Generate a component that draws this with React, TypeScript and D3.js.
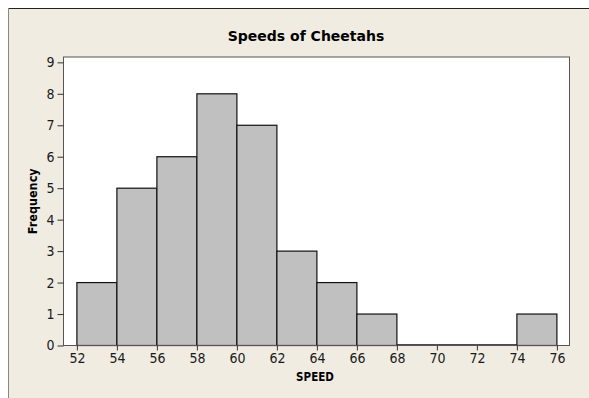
import { useEffect, useRef } from "react"
import * as d3 from "d3"

const binStarts = [52, 54, 56, 58, 60, 62, 64, 66, 68, 70, 72, 74]
const binWidth = 2
const frequencies = [2, 5, 6, 8, 7, 3, 2, 1, 0, 0, 0, 1]
const xTicks = [52, 54, 56, 58, 60, 62, 64, 66, 68, 70, 72, 74, 76]
const yTicks = [0, 1, 2, 3, 4, 5, 6, 7, 8, 9]

const W = 589
const H = 398
const font = "'DejaVu Sans Condensed', 'Liberation Sans', sans-serif"
const titleFont = "'DejaVu Sans', sans-serif"

export default function App() {
  const svgRef = useRef<SVGSVGElement>(null)

  useEffect(() => {
    if (!svgRef.current) return
    const svg = d3.select(svgRef.current)
    svg.selectAll("*").remove()

    const plot = { left: 63.5, top: 57, right: 569.5, bottom: 345.5 }

    // Outer panel
    svg.append("rect").attr("x", 8).attr("y", 8).attr("width", W - 8).attr("height", H - 8).attr("fill", "#f0ece2")
    svg.append("line").attr("x1", 8).attr("x2", W).attr("y1", 8.5).attr("y2", 8.5).attr("stroke", "#222").attr("stroke-width", 1)
    svg.append("line").attr("x1", 8.5).attr("x2", 8.5).attr("y1", 8).attr("y2", H).attr("stroke", "#888").attr("stroke-width", 1)

    // Plot area
    svg
      .append("rect")
      .attr("x", plot.left)
      .attr("y", plot.top)
      .attr("width", plot.right - plot.left)
      .attr("height", plot.bottom - plot.top)
      .attr("fill", "#ffffff")

    const x = d3.scaleLinear().domain([51.33, 76.63]).range([plot.left, plot.right])
    const y = d3.scaleLinear().domain([0, 9.17]).range([plot.bottom, plot.top])

    const bins = binStarts.map((s, i) => ({ x0: s, x1: s + binWidth, n: frequencies[i] }))

    svg
      .append("g")
      .selectAll("rect")
      .data(bins)
      .enter()
      .append("rect")
      .attr("x", (d) => x(d.x0))
      .attr("y", (d) => y(d.n))
      .attr("width", (d) => x(d.x1) - x(d.x0))
      .attr("height", (d) => y(0) - y(d.n))
      .attr("fill", "#c0c0c0")
      .attr("stroke", "#111")
      .attr("stroke-width", 1.2)

    // empty bins still show as a heavy baseline
    svg
      .append("g")
      .selectAll("line")
      .data(bins.filter((d) => d.n === 0))
      .enter()
      .append("line")
      .attr("x1", (d) => x(d.x0))
      .attr("x2", (d) => x(d.x1))
      .attr("y1", y(0) - 0.5)
      .attr("y2", y(0) - 0.5)
      .attr("stroke", "#111")
      .attr("stroke-width", 1.5)

    // Plot frame
    svg
      .append("rect")
      .attr("x", plot.left)
      .attr("y", plot.top)
      .attr("width", plot.right - plot.left)
      .attr("height", plot.bottom - plot.top)
      .attr("fill", "none")
      .attr("stroke", "#555")
      .attr("stroke-width", 1)

    // Axes
    const xAxis = svg
      .append("g")
      .attr("transform", `translate(0,${plot.bottom})`)
      .call(d3.axisBottom(x).tickValues(xTicks).tickSize(5).tickPadding(3).tickFormat(d3.format("d")))
    xAxis.select(".domain").remove()
    xAxis.selectAll("line").attr("stroke", "#333")
    xAxis.selectAll("text").attr("fill", "#1a1a1a").style("font-size", "14px").style("font-family", font)

    const yAxis = svg
      .append("g")
      .attr("transform", `translate(${plot.left},0)`)
      .call(d3.axisLeft(y).tickValues(yTicks).tickSize(6).tickPadding(3).tickFormat(d3.format("d")))
    yAxis.select(".domain").remove()
    yAxis.selectAll("line").attr("stroke", "#333")
    yAxis.selectAll("text").attr("fill", "#1a1a1a").style("font-size", "14px").style("font-family", font)

    // Titles
    svg
      .append("text")
      .attr("x", 306)
      .attr("y", 41)
      .attr("text-anchor", "middle")
      .attr("font-family", titleFont)
      .attr("font-weight", "bold")
      .attr("font-size", 14)
      .attr("fill", "#000")
      .text("Speeds of Cheetahs")

    svg
      .append("text")
      .attr("x", 315)
      .attr("y", 381)
      .attr("text-anchor", "middle")
      .attr("font-family", font)
      .attr("font-weight", "bold")
      .attr("font-size", 11.5)
      .attr("fill", "#000")
      .text("SPEED")

    svg
      .append("text")
      .attr("transform", `translate(37,${(plot.top + plot.bottom) / 2}) rotate(-90)`)
      .attr("text-anchor", "middle")
      .attr("font-family", font)
      .attr("font-weight", "bold")
      .attr("font-size", 12.5)
      .attr("fill", "#000")
      .text("Frequency")
  }, [])

  return (
    <svg
      ref={svgRef}
      width={W}
      height={H}
      style={{ position: "absolute", left: 0, top: 0, background: "#ffffff" }}
    />
  )
}
